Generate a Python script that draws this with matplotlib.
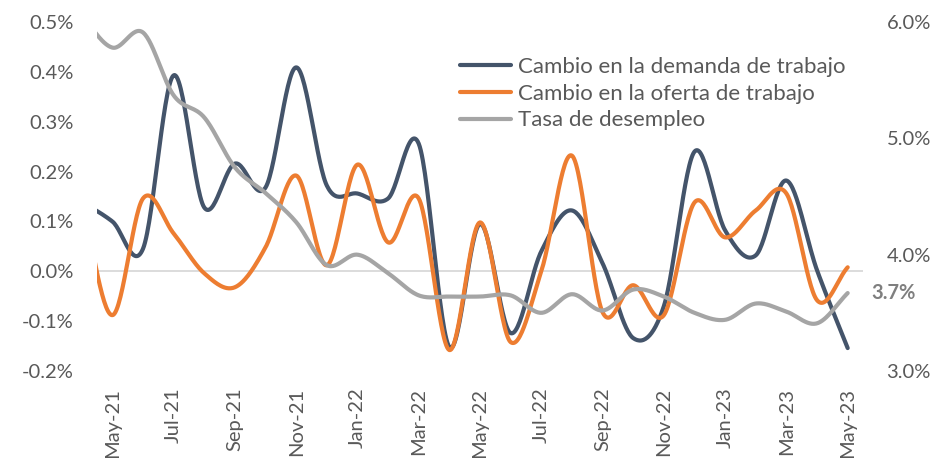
import numpy as np
import matplotlib.pyplot as plt

plt.rcParams['font.family'] = ['Lato', 'DejaVu Sans']

# monthly data, Apr-21 .. May-23 (Apr-21 falls just outside the plot area)
months = ['Apr-21', 'May-21', 'Jun-21', 'Jul-21', 'Aug-21', 'Sep-21', 'Oct-21',
          'Nov-21', 'Dec-21', 'Jan-22', 'Feb-22', 'Mar-22', 'Apr-22', 'May-22',
          'Jun-22', 'Jul-22', 'Aug-22', 'Sep-22', 'Oct-22', 'Nov-22', 'Dec-22',
          'Jan-23', 'Feb-23', 'Mar-23', 'Apr-23', 'May-23']
demanda = [0.14, 0.10, 0.045, 0.393, 0.128, 0.216, 0.168, 0.409, 0.172, 0.156,
           0.146, 0.256, -0.152, 0.095, -0.124, 0.04, 0.122, 0.016, -0.134,
           -0.07, 0.24, 0.082, 0.032, 0.182, 0.002, -0.154]
oferta = [0.14, -0.088, 0.146, 0.076, -0.004, -0.032, 0.048, 0.192, 0.012, 0.214,
          0.058, 0.146, -0.158, 0.098, -0.142, 0.0, 0.232, -0.082, -0.028,
          -0.088, 0.138, 0.068, 0.122, 0.156, -0.058, 0.008]
desempleo = [6.05, 5.78, 5.91, 5.37, 5.18, 4.75, 4.53, 4.28, 3.91, 4.0, 3.84,
             3.65, 3.64, 3.64, 3.65, 3.50, 3.66, 3.52, 3.70, 3.64, 3.50, 3.44,
             3.58, 3.51, 3.41, 3.67]

left_ticks = [-0.2, -0.1, 0.0, 0.1, 0.2, 0.3, 0.4, 0.5]
right_ticks = [3.0, 4.0, 5.0, 6.0]


def smooth(y, n=30):
    # Catmull-Rom style curve, similar to Excel's smoothed lines
    y = np.asarray(y, dtype=float)
    x = np.arange(len(y)) - 1
    m = np.zeros_like(y)
    m[1:-1] = (y[2:] - y[:-2]) / 2
    m[0] = y[1] - y[0]
    m[-1] = y[-1] - y[-2]
    xs, ys = [], []
    for i in range(len(y) - 1):
        t = np.linspace(0, 1, n, endpoint=False)
        h00 = 2 * t**3 - 3 * t**2 + 1
        h10 = t**3 - 2 * t**2 + t
        h01 = -2 * t**3 + 3 * t**2
        h11 = t**3 - t**2
        xs.append(x[i] + t)
        ys.append(h00 * y[i] + h10 * m[i] + h01 * y[i + 1] + h11 * m[i + 1])
    xs.append([x[-1]])
    ys.append([y[-1]])
    return np.concatenate(xs), np.concatenate(ys)


navy = '#44546A'
orange = '#ED7D31'
gray = '#A5A5A5'
txt = '#595959'

fig = plt.figure(figsize=(9.38, 4.58), dpi=100)
ax = fig.add_axes([97 / 938, 1 - 371 / 458, (863 - 97) / 938, (371 - 22) / 458])
ax2 = ax.twinx()

ax.axhline(0, color='#D9D9D9', lw=1.3, zorder=1)
xd, yd = smooth(demanda)
xo, yo = smooth(oferta)
xu, yu = smooth(desempleo)
l1, = ax.plot(xd, yd, color=navy, lw=3, label='Cambio en la demanda de trabajo',
              solid_capstyle='round')
l2, = ax.plot(xo, yo, color=orange, lw=3, label='Cambio en la oferta de trabajo',
              solid_capstyle='round')
l3, = ax2.plot(xu, yu, color=gray, lw=3, label='Tasa de desempleo',
               solid_capstyle='round')

ax.set_xlim(-0.5, 24.5)
ax.set_ylim(-0.2, 0.5)
ax2.set_ylim(3.0, 6.0)

ax.set_yticks(left_ticks)
ax.set_yticklabels([f'{np.round(v, 1) + 0:.1f}%' for v in left_ticks])
ax2.set_yticks(right_ticks)
ax2.set_yticklabels([f'{v:.1f}%' for v in right_ticks])
pos = list(range(0, 25, 2))
ax.set_xticks(pos)
ax.set_xticklabels([months[p + 1] for p in pos], rotation=90)

ax.tick_params(axis='y', length=0, pad=17, labelsize=14.5, labelcolor=txt)
ax2.tick_params(axis='y', length=0, pad=17, labelsize=14.5, labelcolor=txt)
ax.tick_params(axis='x', length=0, pad=12, labelsize=14.5, labelcolor=txt)
for a in (ax, ax2):
    for s in a.spines.values():
        s.set_visible(False)

ax2.annotate(f'{desempleo[-1]:.1f}%', xy=(24, desempleo[-1]), xytext=(17, 0),
             textcoords='offset points', va='center', ha='left',
             fontsize=14.5, fontweight='bold', color='#7F7F7F')

fig.legend(handles=[l1, l2, l3], loc='upper left',
           bbox_to_anchor=(460 / 938, 1 - 57 / 458), frameon=False,
           fontsize=16, labelcolor=txt, handlelength=2.3, handletextpad=0.3,
           labelspacing=0.3, borderpad=0, borderaxespad=0)

fig.savefig('out.png', dpi=100)
